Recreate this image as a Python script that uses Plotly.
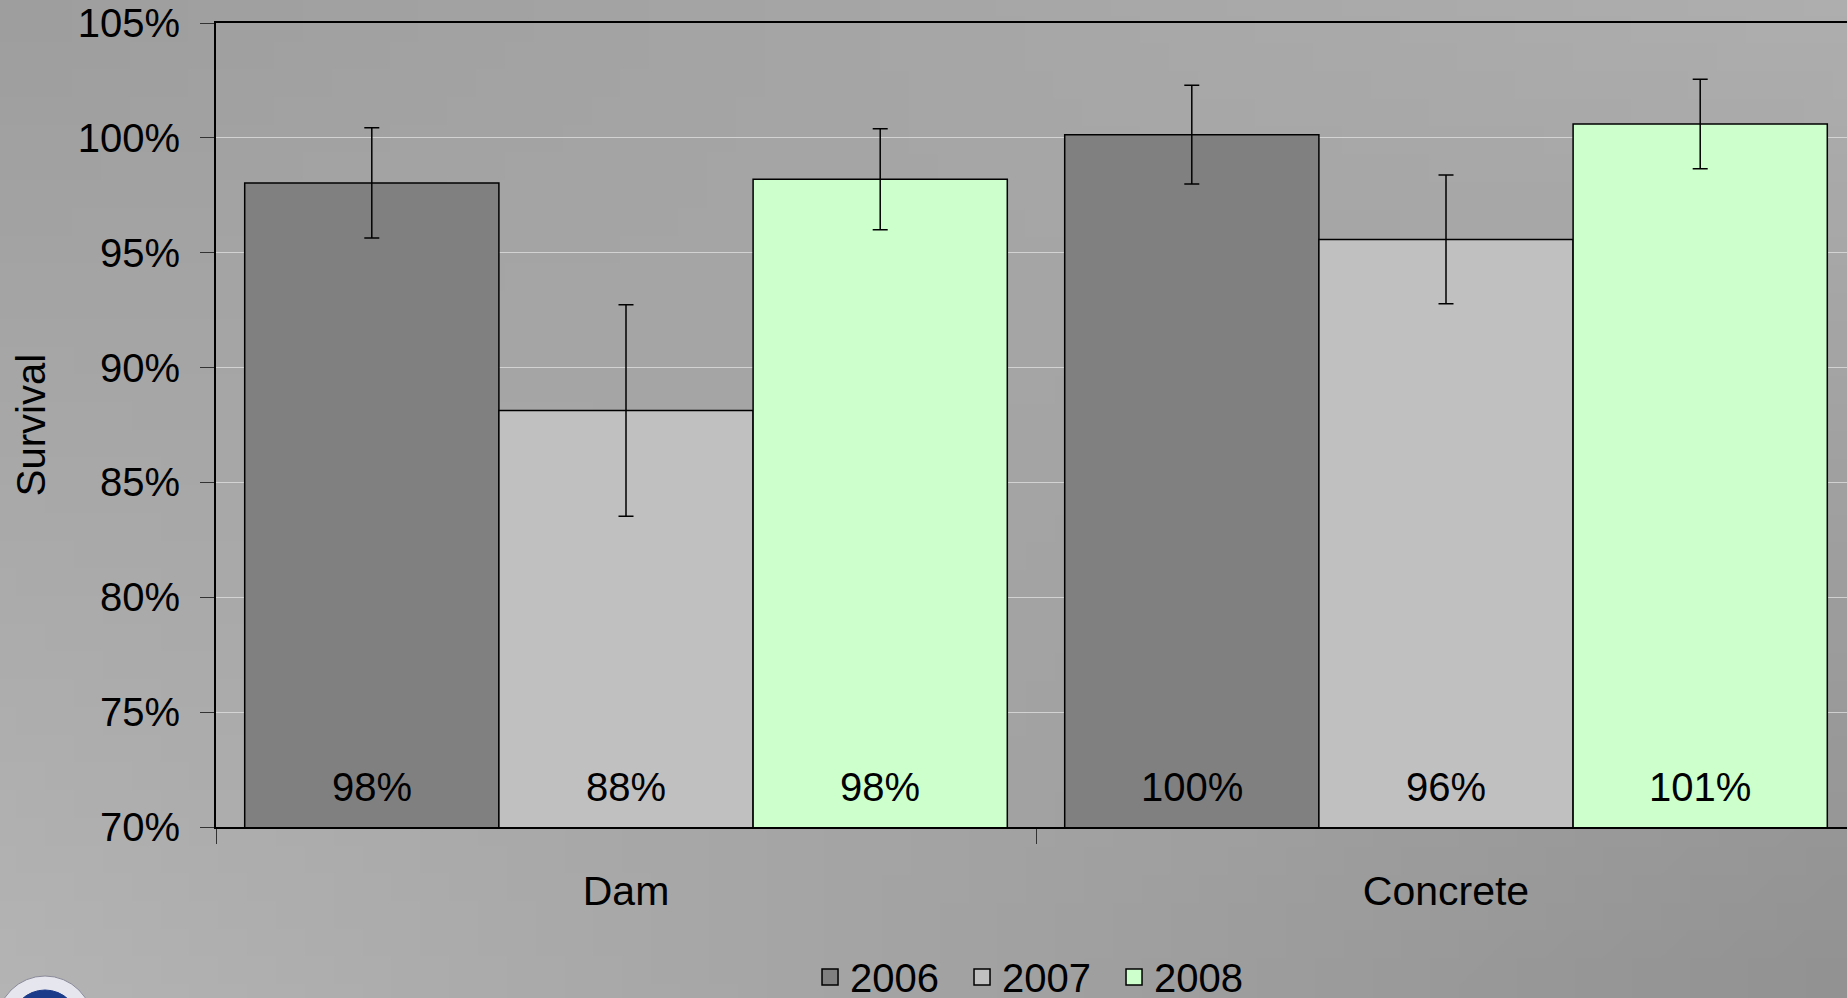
import base64, struct, zlib
import plotly.graph_objects as go

# ---- data ----
categories = ["Dam", "Concrete"]
years = ["2006", "2007", "2008"]
survival_2006 = [98.04, 100.14]
survival_2007 = [88.13, 95.58]
survival_2008 = [98.20, 100.60]
err_2006 = [2.40, 2.15]
err_2007 = [4.60, 2.80]
err_2008 = [2.20, 1.95]
y_ticks = [70, 75, 80, 85, 90, 95, 100, 105]

series_values = [survival_2006, survival_2007, survival_2008]
series_err = [err_2006, err_2007, err_2008]
colors = ["#808080", "#c0c0c0", "#ccffcc"]

W, H = 1847, 998
ML, MR, MT, MB = 216, 0, 23, 171
PW, PH = W - ML - MR, H - MT - MB
BARGAP = 0.07
Y0, Y1 = 70, 105


def gradient_png(w, h, tl, tr, bl, br):
    raw = bytearray()
    for j in range(h):
        t = j / (h - 1)
        raw.append(0)
        for i in range(w):
            s = i / (w - 1)
            v = tl * (1 - s) * (1 - t) + tr * s * (1 - t) + bl * (1 - s) * t + br * s * t
            v = int(round(v))
            raw += bytes([v, v, v])

    def chunk(tag, data):
        c = struct.pack(">I", len(data)) + tag + data
        return c + struct.pack(">I", zlib.crc32(tag + data) & 0xFFFFFFFF)

    png = b"\x89PNG\r\n\x1a\n"
    png += chunk(b"IHDR", struct.pack(">IIBBBBB", w, h, 8, 2, 0, 0, 0))
    png += chunk(b"IDAT", zlib.compress(bytes(raw), 9))
    png += chunk(b"IEND", b"")
    return "data:image/png;base64," + base64.b64encode(png).decode()


bg = gradient_png(64, 36, 0x9E, 0xAE, 0xB4, 0x92)
font = dict(family="Liberation Sans, Arial", size=40, color="black")
font41 = dict(family="Liberation Sans, Arial", size=41, color="black")

fig = go.Figure()
n = len(years)
bw = (1 - BARGAP) / n
for k, (yr, vals, errs, col) in enumerate(zip(years, series_values, series_err, colors)):
    fig.add_trace(go.Bar(
        name=yr, x=categories, y=vals, showlegend=False,
        marker=dict(color=col, line=dict(color="black", width=1.5)),
        error_y=dict(type="data", array=errs, visible=True, color="black",
                     thickness=1.5, width=7.5),
        hoverinfo="x+y",
    ))
    # legend proxy
    fig.add_trace(go.Scatter(
        name=yr, x=[None], y=[None], mode="markers",
        marker=dict(symbol="square", size=24, color=col,
                    line=dict(color="black", width=1.5)),
    ))
    # value labels at the bottom of each bar
    for ci, v in enumerate(vals):
        fig.add_annotation(
            x=ci + (k - (n - 1) / 2) * bw, xref="x", y=Y0, yref="y",
            text=f"{v:.0f}%", showarrow=False, yanchor="middle", yshift=40,
            font=font,
        )

fig.update_layout(
    width=W, height=H,
    margin=dict(l=ML, r=MR, t=MT, b=MB, pad=0, autoexpand=False),
    paper_bgcolor="#a8a8a8",
    plot_bgcolor="rgba(0,0,0,0)",
    barmode="group", bargap=BARGAP, bargroupgap=0,
    font=font,
    showlegend=True,
    legend=dict(orientation="h", x=0.504, xanchor="center", y=-0.146, yanchor="top",
                font=font, bgcolor="rgba(0,0,0,0)", traceorder="normal",
                itemsizing="trace", entrywidth=107),
    images=[dict(source=bg, xref="paper", yref="paper",
                 x=-ML / PW, y=1 + MT / PH, sizex=W / PW, sizey=H / PH,
                 xanchor="left", yanchor="top", sizing="stretch", layer="below")],
)

fig.update_xaxes(
    type="category", range=[-0.5, -0.5 + PW / 820.0],
    showline=True, linecolor="black", linewidth=2, mirror=True,
    ticks="outside", ticklen=15, tickcolor="#333333", tickwidth=1,
    tickson="boundaries", showgrid=False,
    tickfont=font41, ticklabelstandoff=27,
)
fig.update_yaxes(
    range=[Y0, Y1], tickvals=y_ticks, ticktext=[f"{v}%" for v in y_ticks],
    showline=True, linecolor="black", linewidth=2, mirror=False,
    ticks="outside", ticklen=14, tickcolor="#333333", tickwidth=1,
    showgrid=True, gridcolor="rgba(225,225,225,0.75)", gridwidth=1,
    zeroline=False, tickfont=font, ticklabelstandoff=12,
    title=dict(text="Survival", font=font, standoff=20),
)

# partial logo at bottom-left corner (decoration)
def px_to_paper(x, y):
    return (x - ML) / PW, 1 - (y - MT) / PH

for (cx, cy, r, fill, edge) in [(45, 1024, 48, "#e6e6ee", "#8a8a9a"),
                                (45, 1024, 34, "#1a3a8a", "#1a3a8a")]:
    x0, y1 = px_to_paper(cx - r, cy - r)
    x1, y0 = px_to_paper(cx + r, cy + r)
    fig.add_shape(type="circle", xref="paper", yref="paper", x0=x0, x1=x1, y0=y0, y1=y1,
                  fillcolor=fill, line=dict(color=edge, width=1), layer="above")

fig.write_html("out.html", config={"displayModeBar": False},
               post_script="document.body.style.margin='0';document.body.style.overflow='hidden';")
